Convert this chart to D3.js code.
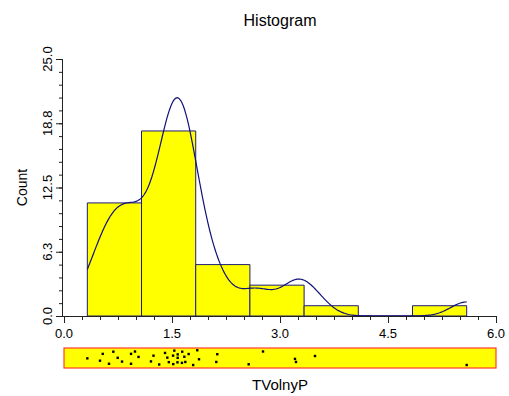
<!DOCTYPE html>
<html>
<head>
<meta charset="utf-8">
<script src="https://cdn.jsdelivr.net/npm/d3@7"></script>
<style>
  body { margin: 0; background: #fff; }
  svg { display: block; font-family: 'Liberation Sans', Arial, sans-serif; }
</style>
</head>
<body>
<div id="plot"></div>
<script>
// TVolnyP values
const values = [
  0.324, 0.500, 0.538, 0.625, 0.685, 0.746, 0.806, 0.931, 0.931, 0.986, 1.035,
  1.208, 1.243, 1.322, 1.403, 1.435, 1.456, 1.517, 1.515, 1.532, 1.576, 1.579,
  1.579, 1.638, 1.642, 1.671, 1.685, 1.731, 1.794,
  1.851, 1.875, 2.115, 2.129, 2.565,
  2.764, 3.208, 3.222,
  3.486,
  5.593
];
// vertical position of each dot inside the strip (0 = top, 1 = bottom)
const jitter = [
  0.52, 0.65, 0.27, 0.82, 0.15, 0.49, 0.70, 0.27, 0.82, 0.14, 0.44,
  0.69, 0.37, 0.86, 0.22, 0.48, 0.73, 0.84, 0.37, 0.09, 0.74, 0.49,
  0.30, 0.77, 0.15, 0.43, 0.72, 0.28, 0.89,
  0.07, 0.57, 0.72, 0.29, 0.85,
  0.14, 0.55, 0.72,
  0.39,
  0.89
];
const nbins = 7;
const bandwidth = 0.22;
const xTicks = [0, 1.5, 3, 4.5, 6];
const yTicks = [0, 6.25, 12.5, 18.75, 25];
const yTickLabels = ['0.0', '6.3', '12.5', '18.8', '25.0'];

const width = 509, height = 396;
const margin = { top: 59, right: 13, bottom: 80, left: 64 };

const svg = d3.select('#plot').append('svg')
  .attr('width', width).attr('height', height)
  .attr('viewBox', [0, 0, width, height]);

const sx = d3.scaleLinear().domain([0, 6])
  .range([margin.left, width - margin.right]);
const sy = d3.scaleLinear().domain([0, 25])
  .range([height - margin.bottom, margin.top]);

// bins: equal width from min to max
const [lo, hi] = d3.extent(values);
const bw = (hi - lo) / nbins;
const thresholds = d3.range(1, nbins).map(i => lo + i * bw);
const bins = d3.bin().domain([lo, hi + 1e-9]).thresholds(thresholds)(values);

// bars =============================================================
svg.append('g')
  .selectAll('path').data(bins).join('path')
  .attr('d', (b, i) => {
    const x0 = sx(lo + i * bw), x1 = sx(lo + (i + 1) * bw);
    const y0 = sy(0), y1 = sy(b.length);
    return `M${x0},${y0}V${y1}H${x1}V${y0}Z`;
  })
  .attr('fill', '#ffff00')
  .attr('stroke', '#1c1c7a')
  .attr('stroke-width', 1);

// density curve, scaled to counts ==================================
const gauss = u => Math.exp(-0.5 * u * u) / Math.sqrt(2 * Math.PI);
const kde = x => d3.sum(values, v => gauss((x - v) / bandwidth)) / bandwidth;
const xs = d3.range(0, 301).map(i => lo + (hi - lo) * i / 300);
svg.append('path')
  .datum(xs.map(x => [x, kde(x) * bw]))
  .attr('d', d3.line().x(d => sx(d[0])).y(d => sy(d[1])))
  .attr('fill', 'none')
  .attr('stroke', '#10107a')
  .attr('stroke-width', 1.2);

// axes =============================================================
const axisColor = '#222';
const gx = svg.append('g')
  .attr('transform', `translate(0,${sy(0)})`)
  .call(d3.axisBottom(sx).tickValues(d3.range(0, 6.001, 0.25)).tickSize(4).tickFormat(''));
gx.select('.domain').attr('d', `M${sx(0) - 1},0.5H${sx(6)}`);
gx.append('g').selectAll('line').data(xTicks).join('line')
  .attr('x1', d => sx(d) + 0.5).attr('x2', d => sx(d) + 0.5)
  .attr('y1', 0).attr('y2', 7).attr('stroke', axisColor);
gx.append('g').selectAll('text').data(xTicks).join('text')
  .attr('x', d => sx(d)).attr('y', 22)
  .attr('text-anchor', 'middle')
  .attr('font-size', 13)
  .attr('fill', '#000')
  .text(d => d.toFixed(1));

const gy = svg.append('g')
  .attr('transform', `translate(${sx(0) - 1},0)`)
  .call(d3.axisLeft(sy).tickValues(d3.range(0, 25.001, 1.25)).tickSize(4).tickFormat(''));
gy.select('.domain').attr('d', `M-0.5,${sy(25)}V${sy(0) + 1}`);
gy.append('g').selectAll('line').data(yTicks).join('line')
  .attr('y1', d => sy(d) + 0.5).attr('y2', d => sy(d) + 0.5)
  .attr('x1', 0).attr('x2', -7).attr('stroke', axisColor);
gy.append('g').selectAll('text').data(yTicks).join('text')
  .attr('transform', (d, i) => `translate(-11,${sy(d)}) rotate(-90)`)
  .attr('text-anchor', 'middle')
  .attr('font-size', 13)
  .attr('fill', '#000')
  .text((d, i) => yTickLabels[i]);

svg.selectAll('.tick line').attr('stroke', axisColor);
svg.selectAll('.domain').attr('stroke', axisColor);

// rug strip ========================================================
const rug = { top: 348, h: 20 };
svg.append('rect')
  .attr('x', sx(0)).attr('y', rug.top)
  .attr('width', sx(6) - sx(0)).attr('height', rug.h)
  .attr('fill', '#ffff00')
  .attr('stroke', '#ff3b2f')
  .attr('stroke-width', 1.2);
svg.append('g')
  .selectAll('rect').data(values).join('rect')
  .attr('x', d => sx(d) - 1.2)
  .attr('y', (d, i) => rug.top + 1 + jitter[i] * (rug.h - 2) - 1.2)
  .attr('width', 2.4).attr('height', 2.4)
  .attr('fill', '#000');

// titles ===========================================================
svg.append('text')
  .attr('x', (sx(0) + sx(6)) / 2).attr('y', 26)
  .attr('text-anchor', 'middle').attr('font-size', 16)
  .text('Histogram');
svg.append('text')
  .attr('transform', `translate(27,${(sy(0) + sy(25)) / 2}) rotate(-90)`)
  .attr('text-anchor', 'middle').attr('font-size', 14)
  .text('Count');
svg.append('text')
  .attr('x', (sx(0) + sx(6)) / 2).attr('y', 390)
  .attr('text-anchor', 'middle').attr('font-size', 15)
  .text('TVolnyP');
</script>
</body>
</html>
